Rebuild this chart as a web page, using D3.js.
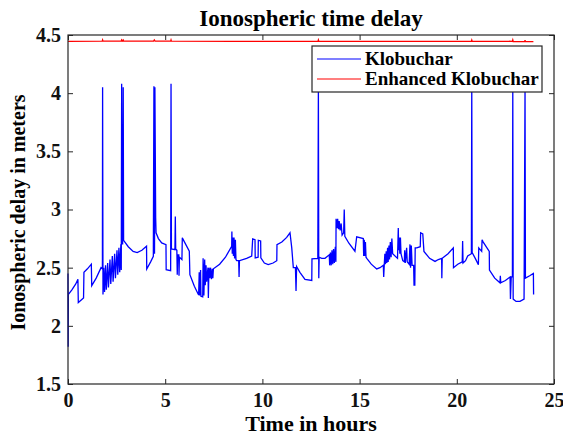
<!DOCTYPE html>
<html>
<head>
<meta charset="utf-8">
<script src="https://cdn.jsdelivr.net/npm/d3@7"></script>
<style>
  body { margin: 0; background: #fff; }
  svg { display: block; font-family: "Liberation Serif", "Times New Roman", serif; font-weight: bold; }
</style>
</head>
<body>
<svg id="chart" width="563" height="437"></svg>
<script>
// Klobuchar delay (m) vs time (h)
var hours = [0.00,0.01,0.02,0.20,0.40,0.51,0.53,0.80,0.82,1.00,1.20,1.22,1.45,1.70,1.77,1.78,1.80,1.84,1.88,1.93,1.97,2.04,2.08,2.16,2.20,2.28,2.32,2.40,2.44,2.52,2.56,2.62,2.66,2.72,2.74,2.76,2.78,2.81,2.84,2.86,3.10,3.35,3.56,3.80,4.04,4.05,4.25,4.39,4.42,4.45,4.47,4.51,4.53,4.65,4.82,5.04,5.05,5.28,5.30,5.32,5.50,5.52,5.54,5.60,5.62,5.64,5.70,5.71,5.73,5.86,5.88,6.24,6.27,6.50,6.72,6.75,6.77,6.82,6.84,6.93,6.95,6.99,7.03,7.06,7.10,7.13,7.20,7.22,7.25,7.30,7.33,7.38,7.42,7.45,7.48,7.80,8.10,8.42,8.43,8.45,8.48,8.51,8.54,8.57,8.61,8.64,8.68,8.78,8.80,8.82,9.19,9.45,9.50,9.62,9.63,9.78,9.79,9.91,9.92,10.10,10.30,10.55,10.74,10.75,11.00,11.25,11.42,11.51,11.59,11.70,11.73,11.76,11.93,12.19,12.54,12.55,12.85,12.88,12.90,12.92,13.05,13.22,13.44,13.46,13.50,13.54,13.58,13.62,13.66,13.70,13.75,13.78,13.79,13.85,13.87,13.92,13.95,14.00,14.05,14.10,14.18,14.21,14.24,14.45,14.76,14.85,15.19,15.21,15.24,15.27,15.30,15.33,15.37,15.60,15.88,16.05,16.22,16.24,16.27,16.30,16.33,16.37,16.40,16.44,16.47,16.51,16.54,16.58,16.62,16.66,16.70,16.95,16.99,17.01,17.04,17.07,17.10,17.13,17.22,17.30,17.32,17.35,17.42,17.45,17.55,17.59,17.62,17.66,17.70,17.78,17.80,17.84,17.86,17.94,18.12,18.14,18.25,18.31,18.60,18.88,19.05,19.22,19.23,19.25,19.55,19.82,19.83,20.05,20.28,20.30,20.32,20.45,20.56,20.75,20.77,20.79,20.95,21.11,21.13,21.28,21.30,21.36,21.67,21.68,21.95,22.22,22.24,22.26,22.50,22.74,22.76,22.80,22.86,22.88,22.90,23.05,23.25,23.46,23.51,23.53,23.75,23.94,23.95];
var klobuchar = [2.45,1.82,2.27,2.31,2.36,2.40,2.20,2.24,2.46,2.49,2.53,2.345,2.41,2.50,2.49,4.05,2.27,2.50,2.29,2.52,2.31,2.54,2.33,2.57,2.36,2.60,2.38,2.62,2.41,2.65,2.44,2.67,2.46,2.70,2.48,4.08,2.72,2.70,4.05,2.735,2.68,2.64,2.63,2.65,2.684,2.489,2.55,2.597,4.06,2.62,4.05,2.93,2.80,2.75,2.713,2.698,2.483,2.474,4.08,2.661,2.655,2.94,2.66,2.65,2.44,2.61,2.61,2.43,2.59,2.57,2.756,2.641,2.44,2.34,2.265,2.46,2.26,2.48,2.255,2.25,2.58,2.26,2.57,2.35,2.52,2.38,2.50,2.24,2.50,2.41,2.50,2.40,2.49,2.41,2.49,2.53,2.59,2.684,2.81,2.62,2.76,2.60,2.76,2.58,2.74,2.57,2.56,2.56,2.42,2.56,2.58,2.60,2.747,2.74,2.584,2.59,2.735,2.73,2.584,2.54,2.526,2.54,2.56,2.698,2.72,2.76,2.80,2.67,2.50,2.50,2.30,2.51,2.46,2.40,2.39,2.575,2.58,4.05,2.41,2.59,2.58,2.58,2.61,2.52,2.63,2.52,2.65,2.53,2.66,2.54,2.68,2.55,2.92,2.84,2.92,2.83,2.90,2.82,2.88,2.78,2.80,3.00,2.77,2.71,2.641,2.765,2.75,2.60,2.74,2.60,2.72,2.59,2.58,2.53,2.489,2.50,2.52,2.42,2.53,2.62,2.53,2.64,2.54,2.67,2.55,2.69,2.57,2.72,2.59,2.75,2.62,2.58,2.84,2.65,2.76,2.62,2.76,2.62,2.56,2.55,2.65,2.54,2.67,2.55,2.53,2.70,2.50,2.69,2.52,2.52,2.35,2.35,2.67,2.67,2.68,2.80,2.79,2.64,2.58,2.554,2.57,2.58,2.41,2.58,2.62,2.67,2.50,2.53,2.55,2.73,2.54,2.56,2.60,2.62,4.05,2.63,2.58,2.526,2.67,2.64,2.74,2.72,2.64,2.48,2.41,2.37,2.43,2.37,2.39,2.42,2.23,2.42,2.42,4.05,2.23,2.21,2.21,2.23,4.05,2.41,2.43,2.45,2.27];

// Enhanced Klobuchar delay (m)
var enhHours = [0,1.76,1.78,1.80,2.74,2.76,2.80,2.84,2.86,4.40,4.44,4.48,5.28,5.30,5.32,8.5,12.86,12.88,12.90,17,20.75,20.77,20.79,22.86,22.88,22.90,23.49,23.51,23.53,23.94];
var enhanced = [4.446,4.447,4.458,4.447,4.447,4.458,4.449,4.457,4.447,4.447,4.457,4.448,4.447,4.458,4.447,4.445,4.446,4.457,4.446,4.445,4.447,4.457,4.447,4.446,4.457,4.444,4.443,4.456,4.443,4.443];

var xTicks = [0, 5, 10, 15, 20, 25];
var yTicks = [1.5, 2, 2.5, 3, 3.5, 4, 4.5];
var seriesNames = ["Klobuchar", "Enhanced Klobuchar"];
var seriesColors = ["#0000ff", "#ff0000"];

var margin = {top: 35, right: 9, bottom: 53, left: 68};
var width = 563 - margin.left - margin.right;
var height = 437 - margin.top - margin.bottom;

var svg = d3.select("#chart");
var g = svg.append("g")
    .attr("transform", "translate(" + margin.left + "," + margin.top + ")");

var x = d3.scaleLinear().domain([0, 25]).range([0, width]);
var y = d3.scaleLinear().domain([1.5, 4.5]).range([height, 0]);

// lines
var kData = hours.map(function(t, i) { return [t, klobuchar[i]]; });
var eData = enhHours.map(function(t, i) { return [t, enhanced[i]]; });
var line = d3.line()
    .x(function(d) { return x(d[0]); })
    .y(function(d) { return y(d[1]); });

g.append("path").datum(kData)
    .attr("fill", "none").attr("stroke", seriesColors[0]).attr("stroke-width", 1.3)
    .attr("d", line);
g.append("path").datum(eData)
    .attr("fill", "none").attr("stroke", seriesColors[1]).attr("stroke-width", 1.3)
    .attr("d", line);

// axes, ticks pointing inward like matlab
var fmt = function(d) { return String(d); };
var axColor = "#262626";

var xAxis = g.append("g").attr("transform", "translate(0," + height + ")")
    .call(d3.axisBottom(x).tickValues(xTicks).tickFormat(fmt).tickSizeInner(-5).tickSizeOuter(0).tickPadding(9));
var xTop = g.append("g")
    .call(d3.axisTop(x).tickValues(xTicks).tickFormat("").tickSizeInner(-5).tickSizeOuter(0));
var yAxis = g.append("g")
    .call(d3.axisLeft(y).tickValues(yTicks).tickFormat(fmt).tickSizeInner(-5).tickSizeOuter(0).tickPadding(7));
var yRight = g.append("g").attr("transform", "translate(" + width + ",0)")
    .call(d3.axisRight(y).tickValues(yTicks).tickFormat("").tickSizeInner(-5).tickSizeOuter(0));

[xAxis, xTop, yAxis, yRight].forEach(function(a) {
  a.select(".domain").remove();
  a.selectAll("line").attr("stroke", axColor);
  a.selectAll("text")
    .attr("fill", "#111")
    .style("font-family", "'Liberation Serif', serif")
    .style("font-weight", "bold")
    .style("font-size", "20px");
});

g.append("rect")
    .attr("width", width).attr("height", height)
    .attr("fill", "none").attr("stroke", axColor).attr("stroke-width", 1.2);

// title and labels
svg.append("text")
    .attr("x", 311).attr("y", 26)
    .attr("text-anchor", "middle")
    .style("font-size", "23px")
    .text("Ionospheric time delay");

svg.append("text")
    .attr("x", 311).attr("y", 431)
    .attr("text-anchor", "middle")
    .style("font-size", "22px")
    .text("Time in hours");

svg.append("text")
    .attr("transform", "translate(25," + (margin.top + height / 2 + 3) + ") rotate(-90)")
    .attr("text-anchor", "middle")
    .style("font-size", "20px")
    .text("Ionospheric delay in meters");

// legend
var leg = svg.append("g").attr("transform", "translate(312,46)");
leg.append("rect")
    .attr("width", 230).attr("height", 46)
    .attr("fill", "#fff").attr("stroke", axColor).attr("stroke-width", 1.2);
seriesNames.forEach(function(name, i) {
  var ly = 13 + i * 20;
  leg.append("line")
    .attr("x1", 5).attr("x2", 49).attr("y1", ly).attr("y2", ly)
    .attr("stroke", seriesColors[i]).attr("stroke-width", 1.1);
  leg.append("text")
    .attr("x", 53).attr("y", ly + 5.5)
    .style("font-size", "19px")
    .text(name);
});
</script>
</body>
</html>
